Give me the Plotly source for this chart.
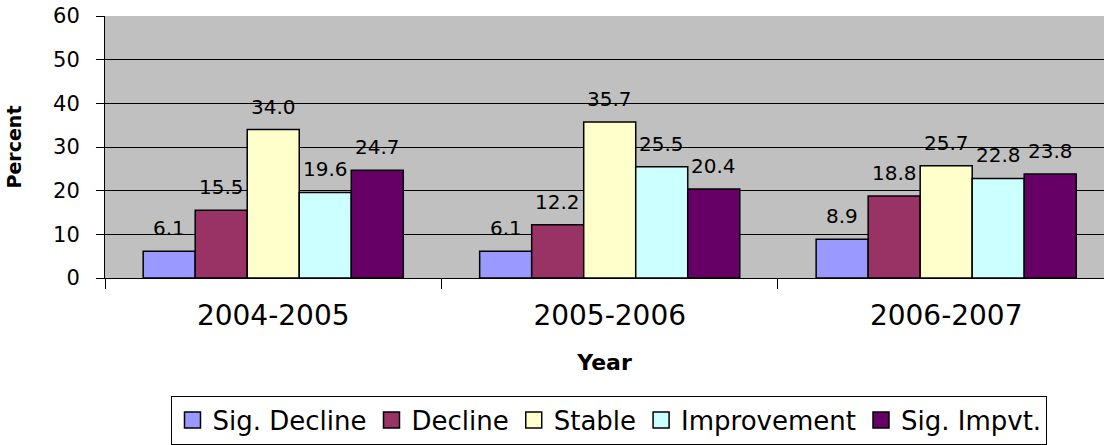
import plotly.graph_objects as go

years = ["2004-2005", "2005-2006", "2006-2007"]
series_names = ["Sig. Decline", "Decline", "Stable", "Improvement", "Sig. Impvt."]
sig_decline = [6.1, 6.1, 8.9]
decline = [15.5, 12.2, 18.8]
stable = [34.0, 35.7, 25.7]
improvement = [19.6, 25.5, 22.8]
sig_impvt = [24.7, 20.4, 23.8]
y_ticks = [0, 10, 20, 30, 40, 50, 60]

colors = ["#9999FF", "#993366", "#FFFFCC", "#CCFFFF", "#660066"]
values = [sig_decline, decline, stable, improvement, sig_impvt]

FONT = "DejaVu Sans"
BARGAP = 0.227
n_series = len(values)
bar_w = (1 - BARGAP) / n_series

fig = go.Figure()
annotations = []
for k, (name, vals, col) in enumerate(zip(series_names, values, colors)):
    fig.add_trace(go.Bar(
        x=years, y=vals, name=name, showlegend=False,
        marker=dict(color=col, line=dict(color="black", width=1.5)),
    ))
    # legend swatch: a larger outlined square than the default bar symbol
    fig.add_trace(go.Scatter(
        x=[None], y=[None], name=name, mode="markers",
        marker=dict(symbol="square", size=16, color=col,
                    line=dict(color="black", width=1.5)),
    ))
    # value labels sitting above each bar
    offset = (k - (n_series - 1) / 2) * bar_w
    for i, v in enumerate(vals):
        annotations.append(dict(
            x=i + offset, y=v, xref="x", yref="y",
            text=f"{v:.1f}", showarrow=False,
            xanchor="center", yanchor="bottom", yshift=9,
            font=dict(family=FONT, size=20, color="black"),
        ))

fig.update_layout(
    width=1104, height=445,
    margin=dict(l=105, r=0, t=16, b=162),
    paper_bgcolor="white",
    plot_bgcolor="#C0C0C0",
    barmode="group",
    bargap=BARGAP,
    bargroupgap=0,
    font=dict(family=FONT, color="black"),
    annotations=annotations,
    showlegend=True,
    legend=dict(
        orientation="h",
        x=0.505, xanchor="center",
        y=-0.449, yanchor="top",
        bordercolor="black", borderwidth=1,
        font=dict(family=FONT, size=26),
        traceorder="normal",
    ),
    xaxis=dict(
        range=[-0.5, 2.469],
        showline=True, linecolor="black", linewidth=1,
        ticks="outside", ticklen=10, tickcolor="black",
        tickson="boundaries",
        ticklabelstandoff=12,
        tickfont=dict(family=FONT, size=28),
        title=dict(text="<b>Year</b>", font=dict(family=FONT, size=22), standoff=24),
    ),
    yaxis=dict(
        range=[0, 60], tickvals=y_ticks,
        showline=True, linecolor="black", linewidth=1,
        ticks="outside", ticklen=8, tickcolor="black",
        showgrid=True, gridcolor="black", gridwidth=1,
        zeroline=False,
        ticklabelstandoff=12,
        tickfont=dict(family=FONT, size=21),
        title=dict(text="<b>Percent</b>", font=dict(family=FONT, size=19), standoff=26),
    ),
)

fig.write_html("out.html")
